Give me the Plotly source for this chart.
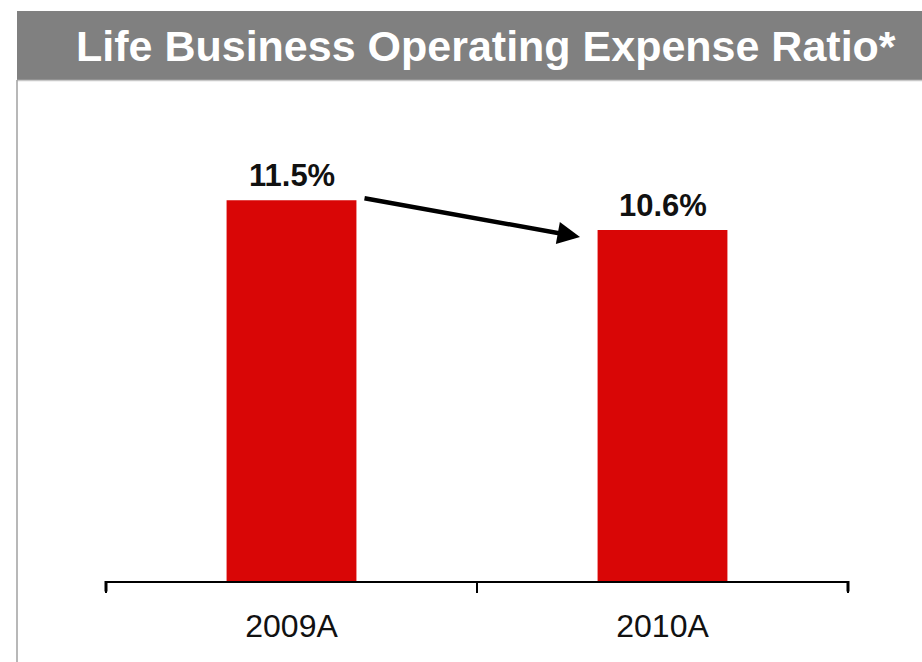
import plotly.graph_objects as go

# Chart data
categories = ["2009A", "2010A"]
expense_ratio = [11.5, 10.6]
title_text = "Life Business Operating Expense Ratio*"

W, H = 922, 662
M_L, M_R, M_T, M_B = 106, 74, 101, 81
Y_MAX = 14.5

plot_w = W - M_L - M_R
plot_h = H - M_T - M_B


def px_to_paper_x(px):
    return (px - M_L) / plot_w


def px_to_paper_y(py):
    return (H - M_B - py) / plot_h


FONT = "Liberation Sans, Arial, sans-serif"
RED = "#d90606"

fig = go.Figure()
fig.add_trace(go.Bar(
    x=categories,
    y=expense_ratio,
    width=0.35,
    marker=dict(color=RED, line=dict(width=0)),
    hoverinfo="skip",
))

annotations = []
# Value labels above the bars
for cat, val in zip(categories, expense_ratio):
    annotations.append(dict(
        x=cat, y=val, xref="x", yref="y",
        text=f"<b>{val:.1f}%</b>", showarrow=False,
        yanchor="bottom", yshift=5,
        font=dict(family=FONT, size=31, color="#111111"),
    ))

# Trend arrow between the bars
annotations.append(dict(
    x=px_to_paper_x(580), y=px_to_paper_y(237),
    ax=px_to_paper_x(363), ay=px_to_paper_y(198),
    xref="x domain", yref="y domain", axref="x domain", ayref="y domain",
    text="", showarrow=True, arrowhead=2, arrowsize=1.0,
    arrowwidth=4.5, arrowcolor="#000000",
))

# Header title
annotations.append(dict(
    x=px_to_paper_x(486), y=px_to_paper_y(46),
    xref="paper", yref="paper", xanchor="center", yanchor="middle",
    text=f"<b>{title_text}</b>", showarrow=False,
    font=dict(family=FONT, size=43, color="#ffffff"),
))

shapes = [
    # Grey header band
    dict(type="rect", xref="paper", yref="paper",
         x0=px_to_paper_x(17), x1=px_to_paper_x(925),
         y0=px_to_paper_y(80), y1=px_to_paper_y(11),
         fillcolor="#808080", line=dict(width=0), layer="below"),
    # Light rule under header
    dict(type="line", xref="paper", yref="paper",
         x0=px_to_paper_x(17), x1=px_to_paper_x(925),
         y0=px_to_paper_y(80.5), y1=px_to_paper_y(80.5),
         line=dict(color="#c8c8c8", width=1.5)),
    # Left frame line
    dict(type="line", xref="paper", yref="paper",
         x0=px_to_paper_x(17), x1=px_to_paper_x(17),
         y0=px_to_paper_y(80), y1=px_to_paper_y(665),
         line=dict(color="#a0a0a0", width=1.5)),
]

# Heavier end ticks on the category axis
for xd in (0.0, 1.0):
    shapes.append(dict(
        type="line", xref="x domain", yref="y domain",
        x0=xd, x1=xd, y0=0, y1=-10.5 / plot_h,
        line=dict(color="#000000", width=3),
    ))

fig.update_layout(
    width=W, height=H,
    margin=dict(l=M_L, r=M_R, t=M_T, b=M_B, pad=0),
    paper_bgcolor="#ffffff", plot_bgcolor="#ffffff",
    showlegend=False,
    bargap=0.65,
    annotations=annotations,
    shapes=shapes,
    xaxis=dict(
        type="category", range=[-0.5, 1.5],
        showline=True, linecolor="#000000", linewidth=1.5,
        ticks="outside", tickson="boundaries", ticklen=10,
        tickwidth=1.5, tickcolor="#000000",
        showgrid=False, zeroline=False,
        tickfont=dict(family=FONT, size=32, color="#111111"),
        ticklabelstandoff=16,
        fixedrange=True,
    ),
    yaxis=dict(
        range=[0, Y_MAX], visible=False, showgrid=False,
        zeroline=False, fixedrange=True,
    ),
)

fig.write_html("out.html", config=dict(displayModeBar=False))
